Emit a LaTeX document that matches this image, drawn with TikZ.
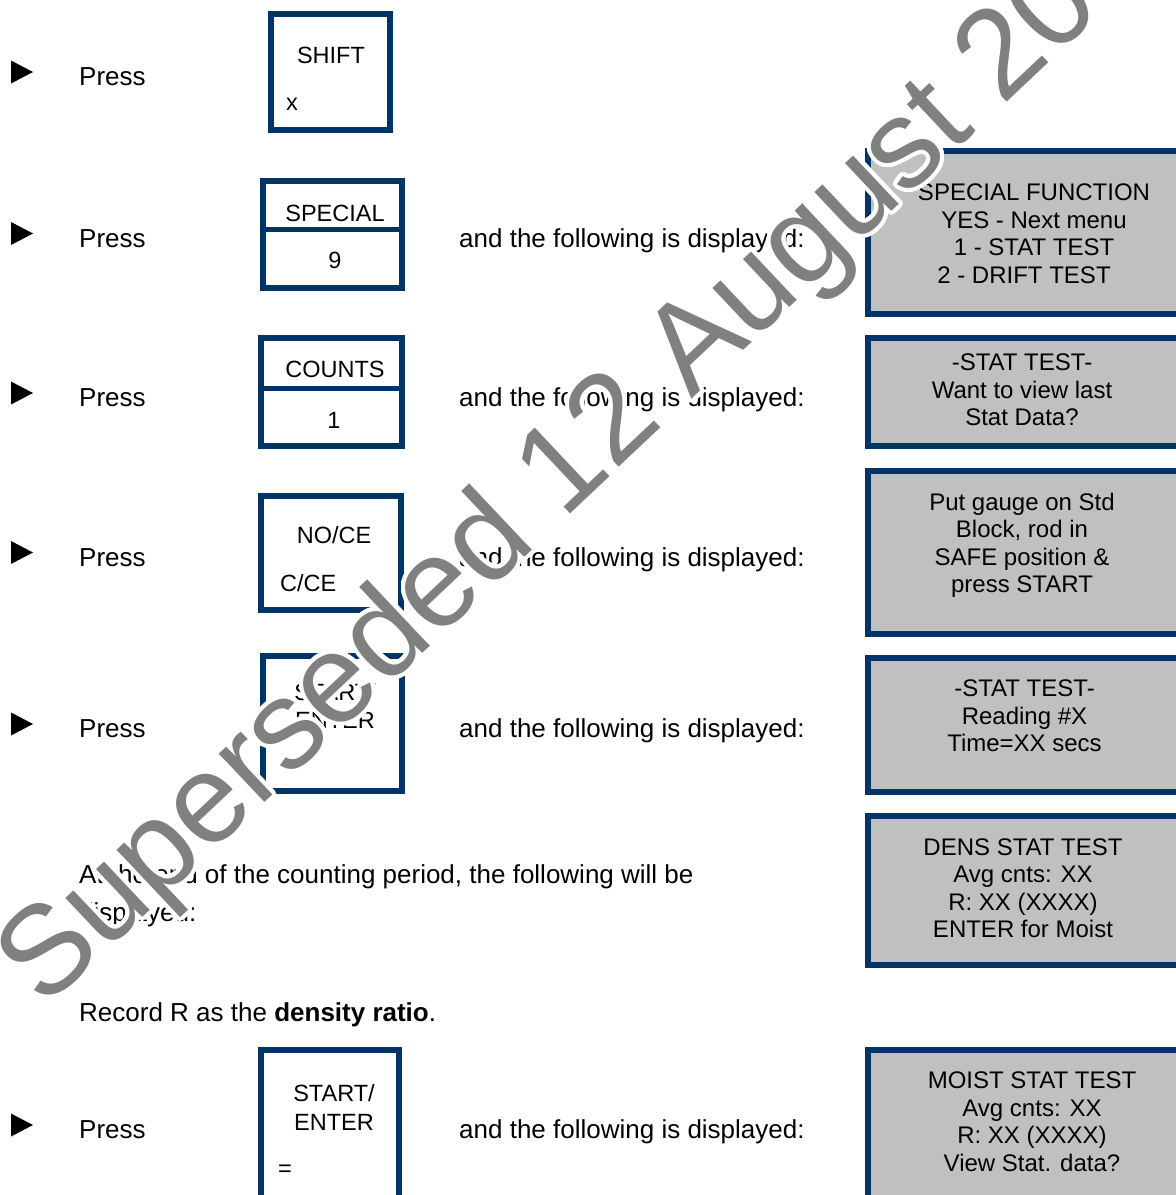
\documentclass[tikz,border=0pt]{standalone}
\usepackage{fontspec}
\setmainfont{Liberation Sans}
\usepackage{contour}
\contourlength{4pt}
\contournumber{32}
\usetikzlibrary{positioning}

\definecolor{keyblue}{RGB}{0,51,102}
\definecolor{lcdgrey}{RGB}{192,192,192}
\definecolor{markgrey}{RGB}{128,128,128}

\begin{document}
\begin{tikzpicture}[x=1pt, y=-1pt,
    keybox/.style 2 args={draw=keyblue, line width=6, inner sep=0, minimum width=#1, minimum height=#2},
    lcdbox/.style 2 args={keybox={#1}{#2}, fill=lcdgrey},
    keyline/.style={draw=keyblue, line width=5},
    keytext/.style={font=\fontsize{23.5}{28.5}\selectfont, inner sep=0, anchor=base},
    lcdtext/.style={font=\fontsize{24}{27.5}\selectfont, inner sep=0, align=center},
    bodytext/.style={font=\fontsize{26}{31}\selectfont, inner sep=0, anchor=base west},
    pointer/.pic={\fill (-11,-11.5) -- (11,0) -- (-11,11.5) -- cycle;}]
    \path[fill=white, use as bounding box] (0,0) rectangle (1176,1195);
    \clip (0,0) rectangle (1176,1195);

    % steps: bullet and "Press"
    \foreach \row/\yb in {1/85.5, 2/247, 3/406.5, 4/566, 5/737.5, 6/1138.5} {
        \pic at (22,\yb-13.5) {pointer};
        \node[bodytext] (press\row) at (79,\yb) {Press};
    }
    \foreach \row in {2,...,6} {
        \node[bodytext] (shown\row) at (459,0 |- press\row.base) {and the following is displayed:};
    }

    % keys
    \node[keybox={119}{116}] (shift) at (330.5,72) {};
    \node[keytext] (shiftlbl) at (331,63.5) {SHIFT};
    \node[keytext, anchor=base west] (shiftalt) at (286,110) {x};

    \node[keybox={139}{107}] (special) at (332.5,234.5) {};
    \draw[keyline] (special.west |- 0,229) -- (special.east |- 0,229);
    \node[keytext] (speciallbl) at (335,221.5) {SPECIAL};
    \node[keytext] (specialalt) at (335,268) {9};

    \node[keybox={141}{108}] (counts) at (331.5,392) {};
    \draw[keyline] (counts.west |- 0,388) -- (counts.east |- 0,388);
    \node[keytext] (countslbl) at (335,377) {COUNTS};
    \node[keytext] (countsalt) at (334,428.5) {1};

    \node[keybox={140}{114}] (noce) at (331,553) {};
    \node[keytext] (nocelbl) at (334,543.5) {NO/CE};
    \node[keytext, anchor=base west] (ncealt) at (280,591.5) {C/CE};

    % two-line labels: base is the last line
    \node[keybox={139}{135}] (enter) at (332.5,723.5) {};
    \node[keytext, align=center] (enterlbl) at (335,728.5) {START/\\ENTER};
    \node[keytext, anchor=base west] (enteralt) at (282,769) {=};

    \node[keybox={138}{200}] (enterb) at (330,1150) {};
    \node[keytext, align=center] (enterblbl) at (334,1130) {START/\\ENTER};
    \node[keytext, anchor=base west] (enterbalt) at (278,1176) {=};

    % display screens
    \node[lcdbox={329}{163}] (lcd1) at (1032.5,232.5) {};
    \node[lcdtext] (lcd1txt) at (1034,233.5) {SPECIAL FUNCTION\\YES - Next menu\\1 - STAT TEST\\2 - DRIFT TEST\hspace*{20pt}};

    \node[lcdbox={331}{108}] (lcd2) at (1033.5,392) {};
    \node[lcdtext] (lcd2txt) at (1022,390) {-STAT TEST-\\Want to view last\\Stat Data?};

    \node[lcdbox={331}{163}] (lcd3) at (1033.5,552.5) {};
    \node[lcdtext] (lcd3txt) at (1022,545.5) {Put gauge on Std\\Block, rod in\\SAFE position \&\\press START};

    \node[lcdbox={331}{134}] (lcd4) at (1033.5,725) {};
    \node[lcdtext] (lcd4txt) at (1024.5,716) {-STAT TEST-\\Reading \#X\\Time=XX secs};

    \node[lcdbox={331}{149}] (lcd5) at (1033.5,890.5) {};
    \node[lcdtext] (lcd5txt) at (1023,888) {DENS STAT TEST\\Avg cnts: XX\\R: XX (XXXX)\\ENTER for Moist};

    \node[lcdbox={331}{200}] (lcd6) at (1033.5,1150) {};
    \node[lcdtext] (lcd6txt) at (1032,1121.5) {MOIST STAT TEST\\Avg cnts: XX\\R: XX (XXXX)\\View Stat. data?};

    % notes
    \node[bodytext] (endnote) at (79,883.5) {At the end of the counting period, the following will be};
    \node[bodytext] (endnoteb) at (79,921.5) {displayed:};
    \node[bodytext] (record) at (79,1021.5) {Record R as the \textbf{density ratio}.};

    % watermark
    \node[font=\fontsize{126}{126}\selectfont, text=markgrey, rotate=43.3, anchor=base west, inner sep=0] (stamp) at (44,1010) {\contour{white}{Superseded 12 August 20}};
\end{tikzpicture}
\end{document}
